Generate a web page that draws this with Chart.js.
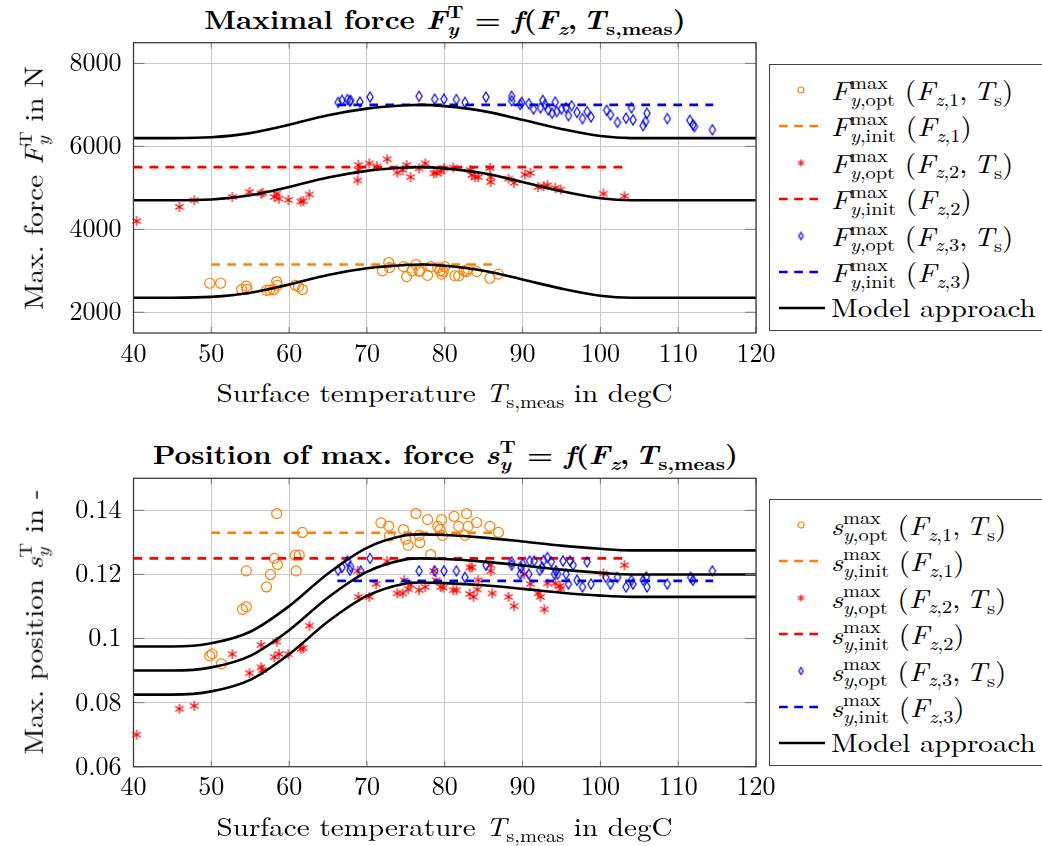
<!DOCTYPE html>
<html lang="en">
<head>
<meta charset="UTF-8">
<title>Maximal force and position</title>
<script src="https://cdn.jsdelivr.net/npm/chart.js"></script>
<style>
  body { margin:0; background:#fff; font-family:"Latin Modern Roman", "DejaVu Serif", serif; color:#000; width:1042px; height:846px; position:relative; overflow:hidden; }
  .chartbox { position:absolute; left:0; width:790px; height:370px; }
  .title { position:absolute; left:0; width:890px; text-align:center; font-weight:bold; font-size:26px; line-height:32px; white-space:nowrap; }
  .xlab { position:absolute; left:0; width:890px; text-align:center; font-size:26px; line-height:32px; white-space:nowrap; }
  .ylab { position:absolute; left:33px; font-size:26px; line-height:32px; white-space:nowrap; transform:translate(-50%,-50%) rotate(-90deg) scaleX(1.12); }
  .wide { display:inline-block; transform:scaleX(1.12); transform-origin:50% 50%; }
  .legend { position:absolute; left:769px; width:290px; height:267px; border:1px solid #444; background:#fff; box-sizing:border-box; padding-top:7px; }
  .row { position:relative; height:36.4px; }
  .row canvas { position:absolute; left:0; top:0; }
  .txt { position:absolute; left:61px; top:1px; font-size:26px; line-height:32px; white-space:nowrap; transform:scaleX(1.12); transform-origin:0 50%; }
  .ss { display:inline-block; vertical-align:-6px; font-size:0.7em; line-height:0.92; text-align:left; }
  .ss > span { display:block; }
  sub { font-size:0.7em; vertical-align:-0.32em; line-height:0; }
</style>
</head>
<body>
  <div class="title" style="top:2px;"><span class="wide">Maximal force <i>F</i><span class="ss"><span>T</span><span><i>y</i></span></span> = <i>f</i>(<i>F</i><sub><i>z</i></sub>,&thinsp;<i>T</i><sub>s,meas</sub>)</span></div>
  <div class="chartbox" style="top:0;"><canvas id="forceChart"></canvas></div>
  <div class="xlab" style="top:376px;"><span class="wide">Surface temperature <i>T</i><sub>s,meas</sub> in degC</span></div>
  <div class="ylab" style="top:188px;">Max. force <i>F</i><span class="ss"><span>T</span><span><i>y</i></span></span> in N</div>
  <div class="legend" id="legendTop" style="top:64px;">
    <div class="row" data-kind="circle" data-color="#ff8000"><span class="txt"><i>F</i><span class="ss"><span>max</span><span><i>y</i>,opt</span></span> (<i>F</i><sub><i>z</i>,1</sub>,&thinsp;<i>T</i><sub>s</sub>)</span></div>
    <div class="row" data-kind="dash" data-color="#ff8000"><span class="txt"><i>F</i><span class="ss"><span>max</span><span><i>y</i>,init</span></span> (<i>F</i><sub><i>z</i>,1</sub>)</span></div>
    <div class="row" data-kind="star" data-color="#ff0000"><span class="txt"><i>F</i><span class="ss"><span>max</span><span><i>y</i>,opt</span></span> (<i>F</i><sub><i>z</i>,2</sub>,&thinsp;<i>T</i><sub>s</sub>)</span></div>
    <div class="row" data-kind="dash" data-color="#ff0000"><span class="txt"><i>F</i><span class="ss"><span>max</span><span><i>y</i>,init</span></span> (<i>F</i><sub><i>z</i>,2</sub>)</span></div>
    <div class="row" data-kind="diamond" data-color="#0000ff"><span class="txt"><i>F</i><span class="ss"><span>max</span><span><i>y</i>,opt</span></span> (<i>F</i><sub><i>z</i>,3</sub>,&thinsp;<i>T</i><sub>s</sub>)</span></div>
    <div class="row" data-kind="dash" data-color="#0000ff"><span class="txt"><i>F</i><span class="ss"><span>max</span><span><i>y</i>,init</span></span> (<i>F</i><sub><i>z</i>,3</sub>)</span></div>
    <div class="row" data-kind="solid" data-color="#000000"><span class="txt">Model approach</span></div>
  </div>

  <div class="title" style="top:437px;"><span class="wide">Position of max. force <i>s</i><span class="ss"><span>T</span><span><i>y</i></span></span> = <i>f</i>(<i>F</i><sub><i>z</i></sub>,&thinsp;<i>T</i><sub>s,meas</sub>)</span></div>
  <div class="chartbox" style="top:440px;"><canvas id="posChart"></canvas></div>
  <div class="xlab" style="top:810px;"><span class="wide">Surface temperature <i>T</i><sub>s,meas</sub> in degC</span></div>
  <div class="ylab" style="top:622px;">Max. position <i>s</i><span class="ss"><span>T</span><span><i>y</i></span></span> in -</div>
  <div class="legend" id="legendBottom" style="top:499px;">
    <div class="row" data-kind="circle" data-color="#ff8000"><span class="txt"><i>s</i><span class="ss"><span>max</span><span><i>y</i>,opt</span></span> (<i>F</i><sub><i>z</i>,1</sub>,&thinsp;<i>T</i><sub>s</sub>)</span></div>
    <div class="row" data-kind="dash" data-color="#ff8000"><span class="txt"><i>s</i><span class="ss"><span>max</span><span><i>y</i>,init</span></span> (<i>F</i><sub><i>z</i>,1</sub>)</span></div>
    <div class="row" data-kind="star" data-color="#ff0000"><span class="txt"><i>s</i><span class="ss"><span>max</span><span><i>y</i>,opt</span></span> (<i>F</i><sub><i>z</i>,2</sub>,&thinsp;<i>T</i><sub>s</sub>)</span></div>
    <div class="row" data-kind="dash" data-color="#ff0000"><span class="txt"><i>s</i><span class="ss"><span>max</span><span><i>y</i>,init</span></span> (<i>F</i><sub><i>z</i>,2</sub>)</span></div>
    <div class="row" data-kind="diamond" data-color="#0000ff"><span class="txt"><i>s</i><span class="ss"><span>max</span><span><i>y</i>,opt</span></span> (<i>F</i><sub><i>z</i>,3</sub>,&thinsp;<i>T</i><sub>s</sub>)</span></div>
    <div class="row" data-kind="dash" data-color="#0000ff"><span class="txt"><i>s</i><span class="ss"><span>max</span><span><i>y</i>,init</span></span> (<i>F</i><sub><i>z</i>,3</sub>)</span></div>
    <div class="row" data-kind="solid" data-color="#000000"><span class="txt">Model approach</span></div>
  </div>

<script>
// axis ticks
const tempTicks = [40, 50, 60, 70, 80, 90, 100, 110, 120];
const forceTicks = [2000, 4000, 6000, 8000];
const posTicks = [0.06, 0.08, 0.1, 0.12, 0.14];

// --- maximal force, measured (optimised) points
const fT1 = [49.8, 51.2, 53.9, 54.5, 54.6, 57.1, 57.5, 58.0, 58.4, 58.5, 60.8, 61.2, 61.7, 72.0, 72.8, 72.9, 74.7, 75.1, 75.8, 76.3, 76.7, 76.8, 77.8, 78.2, 79.1, 79.4, 79.6, 79.8, 80.0, 81.3, 81.8, 82.5, 82.8, 83.0, 84.1, 85.8, 86.9];
const fY1 = [2700, 2700, 2550, 2630, 2550, 2530, 2540, 2550, 2740, 2650, 2650, 2620, 2550, 3000, 3200, 3080, 3100, 2860, 3000, 3150, 2990, 3000, 2890, 3100, 3070, 3000, 2920, 2980, 3100, 2880, 2880, 3000, 2980, 3040, 2980, 2820, 2920];
const fT2 = [40.4, 45.9, 47.8, 52.7, 54.9, 56.4, 56.6, 58.1, 58.4, 58.7, 59.9, 61.5, 61.8, 62.6, 68.8, 68.9, 68.9, 70.3, 71.3, 72.6, 73.9, 74.6, 75.1, 75.6, 76.7, 77.5, 78.6, 78.9, 79.5, 79.9, 81.1, 83.3, 83.5, 83.9, 84.3, 85.8, 85.9, 85.9, 88.2, 88.9, 90.3, 91.0, 92.0, 92.7, 93.2, 94.2, 94.9, 100.4, 103.1];
const fY2 = [4200, 4540, 4700, 4780, 4900, 4860, 4880, 4780, 4860, 4740, 4710, 4670, 4680, 4840, 5180, 5550, 5430, 5590, 5520, 5690, 5370, 5430, 5550, 5260, 5470, 5590, 5350, 5360, 5390, 5470, 5490, 5430, 5310, 5260, 5260, 5480, 5260, 5140, 5220, 5120, 5320, 5360, 5020, 5040, 5060, 5000, 4960, 4860, 4800];
const fT3 = [66.3, 66.8, 67.5, 67.8, 67.9, 69.1, 70.4, 76.7, 78.7, 79.9, 81.5, 82.6, 85.3, 88.6, 88.6, 89.7, 89.9, 90.8, 91.4, 92.3, 92.6, 92.9, 93.3, 93.8, 94.2, 94.4, 95.0, 95.6, 95.9, 96.3, 97.0, 97.7, 98.3, 98.8, 100.8, 101.3, 102.2, 103.3, 104.0, 104.2, 105.5, 105.8, 106.0, 108.6, 111.5, 111.9, 112.1, 114.4];
const fY3 = [7060, 7110, 7130, 7090, 7110, 7070, 7190, 7210, 7140, 7140, 7130, 7060, 7190, 7210, 7100, 7010, 7060, 7030, 6900, 6930, 7110, 7010, 6880, 6800, 7070, 6840, 6900, 6930, 6740, 6980, 6820, 6670, 6840, 6710, 6870, 6760, 6580, 6680, 6930, 6640, 6500, 6600, 6800, 6670, 6630, 6520, 6480, 6400];

// --- maximal force, initial values (dashed)
const fInitT1 = [50, 87];
const fInitY1 = [3150, 3150];
const fInitT2 = [40, 103.5];
const fInitY2 = [5500, 5500];
const fInitT3 = [66.2, 114.5];
const fInitY3 = [7000, 7000];

// --- maximal force, model approach
const modelT = [40, 45, 50, 55, 60, 65, 70, 75, 77, 80, 85, 90, 95, 100, 104, 110, 120];
const fModel1 = [2350, 2350, 2370, 2470, 2670, 2900, 3060, 3140, 3150, 3120, 3000, 2790, 2570, 2400, 2350, 2350, 2350];
const fModel2 = [4700, 4700, 4720, 4820, 5020, 5250, 5410, 5490, 5500, 5470, 5350, 5140, 4920, 4750, 4700, 4700, 4700];
const fModel3 = [6200, 6200, 6220, 6320, 6520, 6750, 6910, 6990, 7000, 6970, 6850, 6640, 6420, 6250, 6200, 6200, 6200];

// --- position of maximal force, measured points
const sT1 = [49.8, 50.1, 51.3, 54.0, 54.5, 54.5, 57.1, 57.6, 58.1, 58.5, 58.4, 60.8, 61.3, 60.9, 61.7, 71.8, 72.8, 72.9, 74.7, 75.0, 75.3, 76.3, 76.7, 76.8, 77.8, 78.2, 79.1, 79.4, 79.6, 79.7, 81.2, 81.8, 82.6, 82.8, 83.0, 84.1, 85.8, 86.9];
const sY1 = [0.0946, 0.0952, 0.0921, 0.1091, 0.1099, 0.1211, 0.1161, 0.1200, 0.1250, 0.1231, 0.1390, 0.1260, 0.1260, 0.1211, 0.1331, 0.1361, 0.1351, 0.1320, 0.1340, 0.1310, 0.1291, 0.1390, 0.1322, 0.1299, 0.1371, 0.1262, 0.1350, 0.1340, 0.1371, 0.1322, 0.1381, 0.1350, 0.1322, 0.1390, 0.1350, 0.1362, 0.1350, 0.1331];
const sT2 = [40.4, 45.9, 47.8, 52.7, 54.9, 56.4, 56.4, 56.6, 58.1, 58.4, 58.7, 59.9, 61.5, 61.8, 62.6, 68.8, 68.9, 70.3, 71.2, 72.6, 73.9, 74.6, 74.8, 75.3, 75.6, 76.7, 77.5, 78.6, 78.9, 79.5, 79.8, 81.1, 81.5, 83.2, 83.5, 83.2, 83.7, 84.2, 84.3, 85.9, 85.9, 86.1, 88.2, 88.9, 90.2, 91.0, 92.0, 92.3, 92.8, 93.2, 94.2, 94.8, 94.9, 100.4, 103.1];
const sY2 = [0.0700, 0.0781, 0.0790, 0.0951, 0.0892, 0.0980, 0.0910, 0.0902, 0.0942, 0.0990, 0.0952, 0.0951, 0.0968, 0.0970, 0.1040, 0.1211, 0.1130, 0.1130, 0.1170, 0.1241, 0.1141, 0.1141, 0.1182, 0.1154, 0.1167, 0.1151, 0.1161, 0.1211, 0.1182, 0.1161, 0.1159, 0.1151, 0.1151, 0.1222, 0.1222, 0.1139, 0.1130, 0.1153, 0.1182, 0.1229, 0.1210, 0.1141, 0.1130, 0.1101, 0.1201, 0.1170, 0.1141, 0.1130, 0.1091, 0.1172, 0.1172, 0.1164, 0.1156, 0.1203, 0.1229];
const sT3 = [66.3, 66.8, 67.5, 67.8, 67.9, 69.2, 70.4, 76.7, 78.7, 79.9, 81.5, 82.6, 85.3, 88.6, 88.6, 89.7, 89.8, 90.0, 90.8, 90.9, 91.5, 92.2, 92.5, 92.7, 93.2, 93.7, 94.1, 94.3, 94.5, 95.2, 95.6, 95.9, 96.1, 96.5, 97.0, 97.7, 98.3, 98.8, 100.7, 101.3, 102.2, 103.3, 104.0, 104.2, 105.5, 105.9, 106.0, 108.6, 111.6, 111.9, 114.4];
const sY3 = [0.1213, 0.1222, 0.1242, 0.1213, 0.1224, 0.1211, 0.1250, 0.1211, 0.1211, 0.1211, 0.1211, 0.1191, 0.1229, 0.1239, 0.1229, 0.1201, 0.1221, 0.1234, 0.1201, 0.1242, 0.1242, 0.1213, 0.1222, 0.1244, 0.1253, 0.1239, 0.1201, 0.1211, 0.1201, 0.1242, 0.1201, 0.1170, 0.1242, 0.1229, 0.1182, 0.1161, 0.1239, 0.1170, 0.1191, 0.1170, 0.1191, 0.1161, 0.1182, 0.1170, 0.1182, 0.1192, 0.1161, 0.1170, 0.1191, 0.1182, 0.1211];

// --- position, initial values (dashed)
const sInitT1 = [50, 87];
const sInitY1 = [0.133, 0.133];
const sInitT2 = [40, 103.5];
const sInitY2 = [0.125, 0.125];
const sInitT3 = [66.2, 114.5];
const sInitY3 = [0.118, 0.118];

// --- position, model approach
const sModel1 = [0.0975, 0.0975, 0.0985, 0.1021, 0.1101, 0.1203, 0.1283, 0.1322, 0.1325, 0.1323, 0.1315, 0.1303, 0.1290, 0.1280, 0.1275, 0.1275, 0.1275];
const sModel2 = [0.0900, 0.0900, 0.0910, 0.0946, 0.1026, 0.1128, 0.1208, 0.1247, 0.1250, 0.1248, 0.1240, 0.1228, 0.1215, 0.1205, 0.1200, 0.1200, 0.1200];
const sModel3 = [0.0825, 0.0825, 0.0835, 0.0871, 0.0951, 0.1053, 0.1133, 0.1172, 0.1175, 0.1173, 0.1166, 0.1155, 0.1143, 0.1134, 0.1130, 0.1130, 0.1130];

const ORANGE = '#ff8000', RED = '#ff0000', BLUE = '#0000ff';

// marker images (pgfplots style asterisk and slim diamond)
function makeMarker(kind, color, size) {
  const w = size + 4;
  const c = document.createElement('canvas');
  c.width = w; c.height = w;
  const g = c.getContext('2d');
  g.strokeStyle = color;
  g.lineWidth = 1.2;
  const m = w / 2, r = size / 2;
  g.beginPath();
  if (kind === 'star') {
    [90, 30, -30].forEach(a => {
      const rad = a * Math.PI / 180;
      g.moveTo(m - r * Math.cos(rad), m + r * Math.sin(rad));
      g.lineTo(m + r * Math.cos(rad), m - r * Math.sin(rad));
    });
  } else if (kind === 'diamond') {
    g.moveTo(m, m - r); g.lineTo(m + r * 0.62, m); g.lineTo(m, m + r); g.lineTo(m - r * 0.62, m); g.closePath();
  } else {
    g.arc(m, m, r, 0, Math.PI * 2);
  }
  g.stroke();
  return c;
}

const starImg = makeMarker('star', RED, 10);
const diamondImg = makeMarker('diamond', BLUE, 10);

function pts(xs, ys) { return xs.map((x, i) => ({ x: x, y: ys[i] })); }

function scatterSet(xs, ys, style, color, order) {
  return {
    data: pts(xs, ys),
    pointStyle: style,
    pointRadius: 5,
    borderColor: color,
    backgroundColor: 'rgba(0,0,0,0)',
    pointBorderWidth: 1.2,
    showLine: false,
    clip: false,
    order: order
  };
}

function lineSet(xs, ys, color, dashed, order) {
  return {
    data: pts(xs, ys),
    showLine: true,
    borderColor: color,
    borderWidth: 2.6,
    borderDash: dashed ? [8.7, 7.3] : [],
    pointRadius: 0,
    cubicInterpolationMode: 'monotone',
    fill: false,
    order: order
  };
}

// full box + inward tick marks like pgfplots
const framePlugin = {
  id: 'frame',
  afterDraw(chart) {
    const { ctx, chartArea: a, scales } = chart;
    ctx.save();
    ctx.strokeStyle = '#777';
    ctx.lineWidth = 1;
    ctx.beginPath();
    scales.x.ticks.forEach(t => {
      const p = scales.x.getPixelForValue(t.value);
      ctx.moveTo(p, a.bottom); ctx.lineTo(p, a.bottom - 6);
      ctx.moveTo(p, a.top); ctx.lineTo(p, a.top + 6);
    });
    scales.y.ticks.forEach(t => {
      const p = scales.y.getPixelForValue(t.value);
      ctx.moveTo(a.left, p); ctx.lineTo(a.left + 11, p);
      ctx.moveTo(a.right, p); ctx.lineTo(a.right - 11, p);
    });
    ctx.stroke();
    ctx.strokeStyle = '#3c3c3c';
    ctx.lineWidth = 1.3;
    ctx.strokeRect(a.left, a.top, a.right - a.left, a.bottom - a.top);
    ctx.restore();
  }
};

function makeChart(id, datasets, yMin, yMax, yTicks, fmt, padTop, xHeight) {
  const tickFont = { family: 'Latin Modern Roman', size: 26 };
  return new Chart(document.getElementById(id), {
    type: 'scatter',
    data: { datasets: datasets },
    options: {
      responsive: true,
      maintainAspectRatio: false,
      animation: false,
      layout: { padding: { top: padTop, right: 34, left: 0, bottom: 0 } },
      plugins: { legend: { display: false }, tooltip: { enabled: false } },
      scales: {
        x: {
          type: 'linear', min: 40, max: 120,
          afterBuildTicks: s => { s.ticks = tempTicks.map(v => ({ value: v })); },
          afterFit: s => { s.height = xHeight; s.paddingLeft = 0; s.paddingRight = 0; },
          grid: { color: '#c8c8c8', lineWidth: 1, drawTicks: false },
          border: { display: false },
          ticks: { font: tickFont, color: '#000', padding: 5, maxRotation: 0, callback: v => String(v) }
        },
        y: {
          type: 'linear', min: yMin, max: yMax,
          afterBuildTicks: s => { s.ticks = yTicks.map(v => ({ value: v })); },
          afterFit: s => { s.width = 133.5; s.paddingTop = 0; s.paddingBottom = 0; },
          grid: { color: '#c8c8c8', lineWidth: 1, drawTicks: false },
          border: { display: false },
          ticks: { font: tickFont, color: '#000', padding: 12, callback: fmt }
        }
      }
    },
    plugins: [framePlugin]
  });
}

function drawAll() {
  makeChart('forceChart', [
    scatterSet(fT1, fY1, 'circle', ORANGE, 7),
    lineSet(fInitT1, fInitY1, ORANGE, true, 6),
    scatterSet(fT2, fY2, starImg, RED, 5),
    lineSet(fInitT2, fInitY2, RED, true, 4),
    scatterSet(fT3, fY3, diamondImg, BLUE, 3),
    lineSet(fInitT3, fInitY3, BLUE, true, 2),
    lineSet(modelT, fModel1, '#000', false, 1),
    lineSet(modelT, fModel2, '#000', false, 1),
    lineSet(modelT, fModel3, '#000', false, 1)
  ], 1500, 8500, forceTicks, v => String(v), 42.7, 37);

  makeChart('posChart', [
    scatterSet(sT1, sY1, 'circle', ORANGE, 7),
    lineSet(sInitT1, sInitY1, ORANGE, true, 6),
    scatterSet(sT2, sY2, starImg, RED, 5),
    lineSet(sInitT2, sInitY2, RED, true, 4),
    scatterSet(sT3, sY3, diamondImg, BLUE, 3),
    lineSet(sInitT3, sInitY3, BLUE, true, 2),
    lineSet(modelT, sModel1, '#000', false, 1),
    lineSet(modelT, sModel2, '#000', false, 1),
    lineSet(modelT, sModel3, '#000', false, 1)
  ], 0.06, 0.15, posTicks, v => String(+v.toFixed(2)), 38.3, 43.3);
}

// legend symbols
document.querySelectorAll('.legend .row').forEach(row => {
  const c = document.createElement('canvas');
  c.width = 60; c.height = 36;
  row.insertBefore(c, row.firstChild);
  const g = c.getContext('2d');
  const kind = row.dataset.kind, color = row.dataset.color;
  const cy = 18;
  if (kind === 'dash' || kind === 'solid') {
    g.strokeStyle = color;
    g.lineWidth = 2.6;
    g.setLineDash(kind === 'dash' ? [8.7, 6.5] : []);
    g.beginPath();
    g.moveTo(9, cy);
    g.lineTo(kind === 'dash' ? 49 : 55, cy);
    g.stroke();
  } else {
    const img = makeMarker(kind, color, kind === 'circle' ? 6 : 7);
    g.drawImage(img, 31 - img.width / 2, cy - img.height / 2);
  }
});

// make sure the canvas tick font is loaded before drawing
document.fonts.load('26px "Latin Modern Roman"').then(drawAll, drawAll);
</script>
</body>
</html>
